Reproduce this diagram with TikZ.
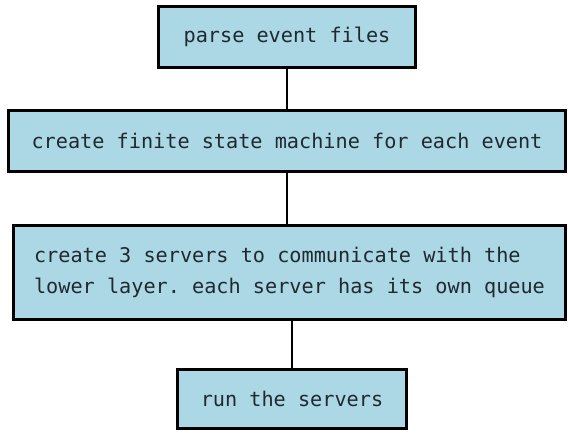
\documentclass[tikz,border=0pt]{standalone}
\usepackage{fontspec}
\setmonofont{DejaVu Sans Mono}
\usepackage{xcolor}
\usepackage{tikz}
\usetikzlibrary{positioning,calc}

\definecolor{boxblue}{RGB}{172,215,229}
\definecolor{boxtext}{RGB}{30,42,48}

\begin{document}
\begin{tikzpicture}[x=0.02cm,y=-0.02cm,
	stage/.style={draw=black,line width=1.7pt,fill=boxblue,text=boxtext,
		font=\ttfamily\fontsize{11.5}{17.5}\selectfont,inner sep=0pt,align=left},
	link/.style={line width=1.7pt,black}]
	\useasboundingbox (0,0) rectangle (568,433);
	% the four steps, top to bottom
	\node[stage,minimum width=5.16cm,minimum height=1.22cm] (parse) at (287,37) {parse event files};
	\node[stage,minimum width=11.16cm,minimum height=1.22cm] (fsm) at (287,141) {create finite state machine for each event};
	\node[stage,minimum width=11.06cm,minimum height=1.88cm] (servers) at (289.5,272.5) {create 3 servers to communicate with the\\lower layer. each server has its own queue};
	\node[stage,minimum width=4.6cm,minimum height=1.18cm] (run) at (292,399) {run the servers};
	% connectors
	\draw[link] (parse.south) -- (parse.south |- fsm.north);
	\draw[link] (fsm.south) -- (fsm.south |- servers.north);
	\draw[link] (servers.south -| run.north) -- (run.north);
\end{tikzpicture}
\end{document}
